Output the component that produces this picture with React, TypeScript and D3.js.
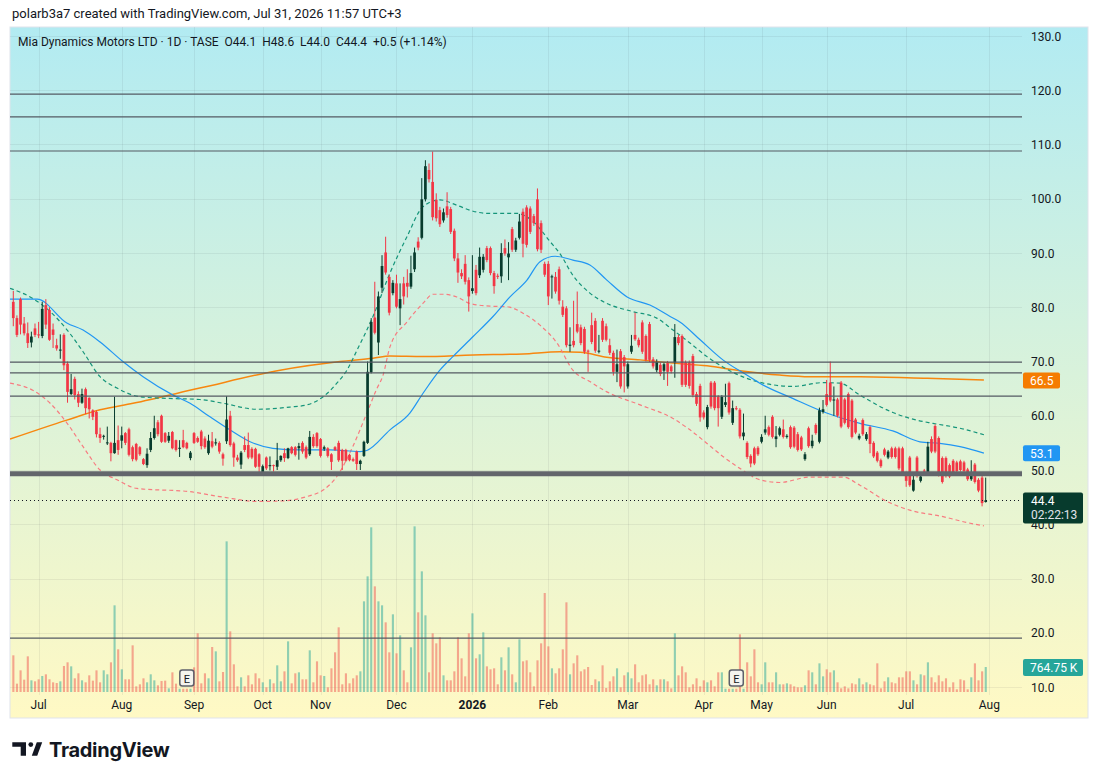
import * as d3 from 'd3';

// daily candles: [open, high, low, close]
const candles: [number, number, number, number][] = [
  [81.0, 83.0, 76.5, 78.0], [78.0, 78.5, 74.5, 74.9], [81.5, 81.8, 75.0, 76.8], [77.0, 78.2, 74.8, 75.2],
  [75.2, 77.2, 72.5, 73.4], [73.5, 75.5, 72.6, 74.6], [76.1, 77.0, 74.5, 74.9], [75.0, 77.3, 74.3, 74.8],
  [74.7, 81.0, 74.3, 79.7], [80.4, 81.5, 76.0, 76.8], [79.5, 80.0, 73.8, 74.0], [75.9, 77.0, 72.5, 74.9],
  [73.0, 74.2, 72.0, 72.4], [72.0, 75.0, 70.5, 72.2], [74.9, 75.2, 68.4, 69.3], [69.6, 70.0, 62.4, 64.4],
  [64.0, 67.7, 63.8, 64.9], [66.8, 67.2, 63.0, 63.8], [64.0, 64.5, 61.6, 62.4], [62.4, 65.0, 62.2, 64.0],
  [64.9, 65.2, 60.3, 61.4], [63.3, 63.4, 59.5, 61.2], [61.0, 61.2, 59.2, 59.8], [60.7, 61.0, 56.0, 56.6],
  [56.6, 57.8, 55.0, 55.9], [56.2, 56.5, 55.6, 56.3], [54.9, 58.0, 54.6, 55.1], [55.0, 55.2, 51.6, 53.1],
  [53.1, 63.5, 53.0, 55.0], [55.5, 58.2, 52.8, 53.7], [55.4, 58.0, 54.0, 56.4], [56.8, 57.0, 54.6, 55.0],
  [57.5, 57.8, 52.5, 52.8], [54.2, 54.5, 51.6, 52.0], [54.8, 55.0, 51.6, 51.9], [54.2, 54.4, 52.6, 52.9],
  [52.0, 52.2, 50.9, 51.1], [50.9, 54.0, 50.4, 53.0], [53.7, 57.0, 53.3, 55.9], [55.9, 60.0, 55.6, 57.7],
  [58.8, 59.2, 56.2, 56.6], [60.0, 60.2, 55.0, 55.2], [56.8, 57.0, 55.0, 55.2], [55.4, 57.0, 55.0, 56.3],
  [57.0, 57.2, 53.8, 54.0], [55.5, 55.6, 53.4, 53.7], [53.9, 55.5, 52.4, 54.1], [55.5, 57.4, 54.0, 54.2],
  [55.0, 55.2, 53.8, 54.0], [52.2, 53.5, 51.8, 53.2], [56.8, 57.0, 54.8, 55.0], [55.9, 56.2, 55.0, 55.2],
  [57.1, 57.4, 53.8, 54.4], [55.8, 56.2, 53.9, 54.2], [53.1, 56.5, 52.8, 55.4], [55.3, 57.0, 54.0, 54.3],
  [54.9, 55.8, 54.5, 55.1], [55.0, 55.3, 53.0, 53.4], [52.9, 53.2, 50.8, 52.1], [55.3, 63.6, 54.8, 59.3],
  [60.0, 60.9, 54.3, 54.6], [54.9, 55.2, 50.6, 52.3], [52.3, 52.8, 51.5, 51.8], [51.0, 53.5, 50.2, 53.2],
  [54.6, 56.2, 53.3, 53.7], [54.6, 56.9, 52.0, 52.3], [53.9, 54.2, 52.0, 52.3], [53.9, 54.1, 50.4, 50.6],
  [52.9, 53.1, 49.1, 50.6], [49.1, 51.0, 48.9, 50.7], [52.3, 52.5, 50.0, 50.3], [50.7, 52.5, 49.9, 50.9],
  [50.9, 51.0, 49.7, 50.8], [50.6, 55.0, 50.0, 51.8], [51.8, 52.7, 51.5, 52.6], [53.1, 54.0, 51.5, 52.2],
  [52.2, 54.1, 52.0, 54.0], [54.2, 54.4, 52.9, 53.1], [54.2, 54.4, 52.5, 52.8], [54.0, 55.0, 51.9, 54.4],
  [55.0, 55.3, 53.0, 53.4], [54.2, 54.5, 52.0, 52.3], [52.9, 57.2, 52.6, 56.1], [56.1, 56.6, 54.1, 54.4],
  [56.8, 57.0, 54.1, 54.4], [55.7, 55.9, 52.3, 52.6], [53.9, 54.5, 53.5, 54.2], [54.0, 54.2, 52.3, 52.6],
  [52.9, 53.1, 50.0, 51.5], [54.2, 54.4, 53.5, 53.7], [55.0, 55.4, 51.5, 51.8], [53.7, 53.9, 50.0, 51.7],
  [53.7, 53.9, 51.5, 51.7], [52.8, 53.0, 51.6, 51.8], [52.0, 52.3, 51.5, 51.7], [53.4, 53.6, 50.0, 51.1],
  [51.1, 51.9, 50.0, 51.7], [52.6, 55.4, 52.4, 55.2], [55.0, 70.0, 54.8, 68.1], [68.0, 78.0, 67.8, 77.3],
  [78.1, 84.7, 75.0, 75.3], [73.5, 82.9, 71.2, 82.0], [83.6, 89.6, 82.6, 87.6], [90.1, 93.0, 86.0, 86.4],
  [85.6, 86.0, 78.5, 79.0], [82.6, 85.0, 82.2, 84.5], [84.4, 86.0, 79.8, 80.1], [79.8, 84.4, 76.7, 81.5],
  [84.4, 85.6, 80.5, 82.0], [84.5, 87.0, 81.8, 83.8], [83.8, 89.5, 83.4, 86.3], [87.0, 91.0, 86.5, 90.1],
  [92.1, 92.9, 90.5, 91.0], [92.8, 103.8, 92.5, 99.9], [99.9, 107.1, 99.5, 106.0], [105.3, 106.5, 103.0, 103.6],
  [103.1, 108.7, 96.0, 96.6], [99.8, 101.0, 95.8, 96.4], [97.9, 98.5, 94.8, 95.3], [96.0, 98.2, 95.6, 97.5],
  [98.6, 101.2, 96.5, 97.0], [98.1, 98.5, 93.5, 93.9], [94.1, 94.5, 88.5, 89.0], [89.0, 90.0, 84.5, 86.4],
  [86.3, 87.0, 85.2, 85.7], [88.0, 89.6, 84.2, 84.7], [85.0, 85.5, 79.2, 82.0], [83.0, 89.6, 82.5, 83.5],
  [86.9, 87.8, 82.2, 82.6], [85.9, 91.0, 85.4, 89.3], [86.9, 89.8, 86.4, 89.3], [90.9, 91.3, 88.3, 88.7],
  [90.9, 91.2, 85.9, 86.3], [86.3, 86.7, 82.5, 83.9], [85.8, 86.2, 85.2, 85.6], [85.7, 91.8, 84.5, 90.0],
  [90.9, 92.5, 89.5, 89.9], [89.2, 92.0, 85.0, 89.9], [94.4, 94.8, 90.2, 90.6], [90.6, 92.8, 90.2, 92.3],
  [92.8, 97.2, 92.5, 95.8], [97.6, 98.2, 89.2, 91.7], [98.4, 98.8, 91.0, 91.5], [98.2, 98.6, 93.5, 93.9],
  [96.8, 97.2, 95.0, 95.5], [99.9, 101.9, 90.3, 90.7], [95.5, 96.0, 90.0, 90.6], [88.0, 88.4, 85.6, 86.0],
  [88.0, 88.5, 80.4, 82.0], [85.5, 86.0, 81.6, 85.7], [85.6, 86.5, 82.5, 82.9], [87.0, 87.5, 80.5, 81.2],
  [80.1, 81.3, 78.2, 78.6], [79.8, 80.2, 72.6, 73.0], [72.9, 76.3, 71.8, 73.1], [73.8, 81.2, 72.6, 73.0],
  [76.9, 82.9, 75.2, 75.5], [76.3, 76.8, 73.0, 73.4], [76.0, 76.4, 71.4, 71.8], [72.0, 72.2, 68.1, 71.9],
  [76.7, 79.0, 73.2, 73.6], [77.5, 78.0, 71.6, 72.0], [71.8, 74.9, 71.5, 72.0], [77.5, 78.0, 73.6, 74.0],
  [76.5, 77.0, 73.7, 74.0], [73.0, 74.2, 71.2, 71.6], [71.6, 72.0, 67.4, 68.1], [68.1, 72.2, 66.2, 69.5],
  [71.9, 72.3, 65.0, 65.4], [70.8, 71.2, 64.3, 69.1], [65.4, 70.0, 65.0, 69.5], [71.8, 74.9, 71.4, 72.9],
  [74.9, 79.0, 73.8, 74.1], [74.0, 74.4, 72.6, 73.0], [77.2, 77.6, 71.4, 71.8], [74.7, 75.0, 70.0, 70.3],
  [76.9, 77.3, 69.9, 70.3], [70.4, 70.8, 68.7, 69.1], [68.4, 70.4, 68.0, 69.9], [69.4, 69.8, 67.3, 67.7],
  [68.3, 69.8, 66.6, 69.5], [69.7, 70.1, 65.5, 68.1], [69.1, 69.4, 67.8, 68.2], [69.8, 76.9, 67.0, 74.5],
  [74.5, 74.9, 73.0, 73.4], [74.7, 75.0, 65.3, 65.7], [69.8, 70.2, 65.3, 65.7], [69.8, 70.2, 65.0, 65.5],
  [71.0, 71.4, 63.4, 63.8], [64.0, 64.4, 61.8, 62.2], [65.5, 65.9, 58.9, 59.7], [60.6, 61.0, 59.3, 59.7],
  [57.9, 62.0, 57.5, 61.6], [66.1, 66.4, 61.3, 61.7], [66.1, 66.4, 61.0, 61.4], [63.5, 63.8, 58.0, 61.4],
  [59.8, 63.8, 59.4, 63.5], [62.0, 65.9, 61.6, 62.5], [66.0, 66.3, 60.2, 60.6], [58.7, 62.8, 58.3, 61.4],
  [61.4, 61.8, 61.0, 61.2], [61.1, 61.4, 55.8, 56.2], [56.2, 60.4, 55.5, 56.9], [55.0, 55.3, 52.0, 52.4],
  [52.6, 52.9, 50.5, 51.2], [54.0, 54.3, 50.9, 51.2], [54.1, 54.4, 52.6, 52.9], [55.2, 56.6, 54.9, 56.1],
  [56.9, 60.0, 56.5, 57.5], [57.9, 58.2, 56.2, 56.5], [59.8, 60.1, 55.8, 56.1], [55.7, 58.1, 54.2, 56.2],
  [56.5, 58.0, 56.2, 57.7], [57.5, 59.3, 55.8, 56.1], [56.1, 56.6, 55.8, 56.3], [57.9, 58.2, 53.9, 54.2],
  [57.8, 58.1, 54.0, 54.3], [56.6, 57.0, 53.4, 53.7], [56.0, 56.3, 53.5, 53.8], [52.0, 53.3, 51.7, 52.9],
  [57.7, 58.0, 54.1, 54.4], [54.4, 56.5, 54.0, 55.4], [58.3, 58.6, 56.5, 56.8], [55.2, 61.5, 54.9, 61.0],
  [60.7, 62.9, 60.4, 61.2], [64.0, 66.6, 61.7, 62.0], [66.1, 70.0, 62.5, 62.8], [62.8, 65.4, 60.0, 63.0],
  [63.0, 63.3, 59.7, 60.0], [66.1, 66.4, 57.7, 58.0], [63.0, 63.3, 58.4, 58.7], [64.0, 64.3, 57.6, 57.9],
  [62.8, 63.1, 55.8, 56.1], [59.3, 59.6, 56.6, 56.9], [55.8, 56.7, 55.5, 56.3], [59.2, 59.5, 56.3, 56.6],
  [55.7, 57.0, 55.4, 56.6], [57.9, 58.2, 53.1, 54.8], [55.0, 55.3, 52.2, 52.5], [53.2, 53.5, 51.4, 51.7],
  [51.8, 52.1, 50.4, 50.7], [53.8, 54.1, 52.5, 52.8], [52.3, 53.7, 52.0, 53.4], [54.0, 54.3, 52.1, 52.4],
  [54.0, 54.3, 52.1, 52.4], [54.0, 54.3, 50.0, 50.3], [54.0, 54.3, 49.2, 49.5], [49.4, 49.7, 46.9, 48.0],
  [52.3, 52.6, 46.9, 47.2], [46.2, 49.0, 46.0, 48.2], [52.3, 52.6, 48.6, 48.9], [48.0, 49.4, 47.7, 48.8],
  [49.9, 50.2, 49.4, 49.7], [49.4, 55.2, 49.1, 54.3], [55.7, 56.2, 53.1, 53.4], [58.1, 58.4, 53.1, 53.4],
  [55.9, 56.2, 48.8, 49.1], [52.2, 52.5, 47.5, 47.8], [52.2, 52.5, 48.6, 49.4], [50.9, 51.2, 48.5, 48.8],
  [51.7, 52.0, 49.2, 49.5], [51.4, 51.7, 49.5, 49.8], [51.6, 51.9, 49.7, 50.0], [51.4, 51.7, 49.5, 49.8],
  [50.1, 50.4, 48.0, 48.3], [48.3, 51.8, 48.0, 49.2], [51.0, 51.3, 47.5, 47.8], [48.2, 48.5, 45.9, 46.2],
  [48.6, 48.9, 43.3, 43.9], [44.1, 48.6, 44.0, 44.4],
];

// volume in thousands
const volumes = [
  1122, 255, 663, 377, 1091, 357, 326, 388, 490, 541, 388, 296, 275, 326, 796, 908, 785, 418, 571, 357,
  296, 510, 347, 663, 296, 663, 541, 908, 2652, 1306, 694, 388, 388, 1428, 173, 235, 418, 296, 541, 357,
  204, 337, 347, 112, 602, 255, 100, 100, 100, 100, 755, 1795, 265, 571, 418, 1377, 1244, 326, 612, 4610,
  1856, 847, 173, 449, 173, 510, 235, 571, 418, 296, 143, 388, 265, 816, 326, 632, 1550, 265, 571, 602,
  388, 388, 1275, 296, 938, 510, 490, 143, 724, 1214, 1979, 235, 571, 265, 418, 510, 632, 2774, 3539, 5039,
  3233, 2774, 2652, 2132, 1214, 2377, 1183, 1734, 663, 296, 1367, 5069, 2438, 3692, 2346, 602, 1795, 1489, 1673, 510,
  357, 357, 632, 1673, 1030, 479, 1795, 2407, 1030, 1153, 1826, 785, 694, 724, 235, 1061, 663, 1367, 541, 296,
  1612, 938, 969, 602, 173, 969, 1489, 3029, 1397, 724, 571, 724, 1306, 2744, 541, 877, 1122, 632, 694, 765,
  214, 388, 326, 816, 122, 326, 479, 724, 143, 510, 602, 418, 847, 296, 510, 541, 235, 388, 204, 388,
  388, 326, 112, 1795, 510, 785, 602, 143, 235, 418, 173, 357, 296, 357, 173, 602, 602, 100, 100, 100,
  100, 1765, 100, 908, 479, 1306, 296, 235, 908, 296, 296, 602, 235, 235, 265, 235, 173, 143, 143, 204,
  663, 602, 235, 877, 479, 694, 600, 663, 296, 112, 173, 112, 265, 235, 418, 235, 296, 235, 204, 877,
  112, 326, 449, 296, 265, 449, 449, 632, 632, 357, 235, 541, 510, 908, 449, 296, 510, 326, 418, 143,
  296, 82, 388, 357, 82, 449, 877, 357, 632, 765,
];

const months = [
  { label: 'Jul', i: 7 }, { label: 'Aug', i: 30 }, { label: 'Sep', i: 50 }, { label: 'Oct', i: 69 },
  { label: 'Nov', i: 85 }, { label: 'Dec', i: 106 }, { label: '2026', i: 127 }, { label: 'Feb', i: 148 },
  { label: 'Mar', i: 170 }, { label: 'Apr', i: 191 }, { label: 'May', i: 207 }, { label: 'Jun', i: 225 },
  { label: 'Jul', i: 247 }, { label: 'Aug', i: 270 },
];

const priceTicks = [130, 120, 110, 100, 90, 80, 70, 60, 50, 40, 30, 20, 10];
const levelLines = [119.3, 115.1, 108.8, 69.9, 67.9, 63.6, 19.0];
const supportLine = 49.3;
const earnings = [48, 200];

// [bar index, value]
const smaBlue: [number, number][] = [
  [-0.9, 81.5], [6.6, 81.5], [14.8, 77.1], [19.3, 75.8], [24, 73.6], [30.3, 70.0], [35.9, 67.2], [44.2, 63.8],
  [48.9, 62.3], [54.4, 59.8], [59.9, 57.4], [65.5, 55.2], [71.8, 54.0], [79.3, 53.7], [87.6, 53.7], [95.9, 53.4],
  [97.8, 53.6], [104.2, 57.4], [109.7, 60.5], [113.3, 64.1], [118, 68.4], [121.6, 70.9], [127.2, 74.6],
  [132.7, 78.3], [137.4, 81.9], [142.1, 85.0], [145.7, 88.4], [149.9, 89.4], [154.8, 88.7], [159.5, 87.8],
  [164.2, 85.0], [169.8, 81.9], [176.1, 80.4], [181.7, 78.3], [184.4, 77.3], [190, 74.0], [196.3, 70.3],
  [202.9, 67.5], [206.5, 66.0], [215.6, 63.2], [225, 60.5], [234.2, 58.6], [243.3, 57.2], [250.8, 55.2],
  [256.3, 54.9], [261.9, 54.3], [268.5, 53.1],
];
const smaOrange: [number, number][] = [
  [-0.9, 55.7], [14.8, 59.2], [24, 61.1], [33.1, 62.3], [51.6, 65.1], [73.8, 68.4], [90.4, 70.0], [99.5, 70.6],
  [104.2, 71.0], [113.3, 70.9], [127.2, 71.2], [141, 71.4], [151.2, 71.8], [156.8, 71.7], [164.2, 70.8],
  [173.4, 70.3], [182.5, 69.7], [191.9, 69.2], [201, 68.3], [212, 67.5], [220.4, 67.2], [234.2, 67.2],
  [252.8, 66.9], [268.5, 66.6],
];
const bandUpper: [number, number][] = [
  [-0.9, 83.5], [5.4, 81.6], [10.2, 79.2], [14.9, 75.8], [19.3, 71.8], [24, 67.2], [28.7, 65.1], [35.1, 63.5],
  [42.5, 63.2], [51.6, 63.0], [58, 62.3], [67.4, 61.2], [76.5, 61.6], [81.2, 62.0], [86.8, 64.1], [89.5, 66.0],
  [92.3, 68.4], [95.1, 72.1], [99.5, 78.3], [104.2, 86.3], [108.9, 93.0], [113.3, 98.5], [118, 99.8],
  [122.7, 98.8], [127.2, 97.7], [131.9, 97.3], [139.3, 97.3], [143.8, 95.8], [148.5, 92.1], [151.2, 89.9],
  [154.8, 85.9], [159.5, 82.6], [164.2, 80.7], [171.4, 79.2], [178, 78.0], [182.5, 75.8], [187.2, 73.4],
  [191.9, 70.9], [196.3, 69.0], [202.9, 66.9], [210.1, 65.7], [215.6, 65.4], [223.9, 66.1], [228.7, 66.0],
  [234.2, 63.8], [243.3, 60.6], [249.9, 59.2], [254.4, 58.6], [261.9, 57.7], [268.5, 56.5],
];
const bandLower: [number, number][] = [
  [-0.9, 66.0], [5.4, 64.7], [10.2, 62.3], [14.9, 58.6], [19.3, 54.3], [24, 50.0], [28.7, 48.2], [34.2, 46.6],
  [48.9, 46.0], [58, 45.0], [67.4, 44.2], [74.6, 44.3], [81.2, 45.1], [85.7, 46.3], [89.5, 48.8], [93.9, 54.3],
  [97.8, 60.5], [100.5, 64.9], [102.3, 67.5], [104.2, 72.7], [108.9, 77.3], [113.3, 80.7], [116.1, 82.4],
  [118.9, 82.4], [122.7, 81.9], [126.3, 80.7], [131.9, 80.2], [136.6, 80.1], [141, 78.9], [145.7, 76.7],
  [150.4, 73.4], [154.8, 68.4], [159.5, 66.3], [164.2, 64.4], [173.4, 62.0], [182.5, 59.5], [187.2, 57.4],
  [191.9, 54.9], [196.3, 52.5], [201, 50.3], [206.5, 48.2], [212, 47.7], [220.4, 48.7], [229.5, 48.7],
  [234.2, 47.2], [241.7, 44.2], [248, 42.6], [257.2, 41.4], [263.9, 40.3], [268.5, 39.7],
];

const UP = '#073b2d';
const DOWN = '#f23645';
const FONT = 'Roboto, "Noto Sans", sans-serif';

export default function App() {
  const left = 10;
  const plotRight = 1022;
  const panelRight = 1088;
  const top = 27;
  const bottom = 718;

  const n = candles.length;
  const x = d3.scaleLinear().domain([0, n - 1]).range([13.3, 985.7]);
  const y = d3.scaleLinear().domain([10, 130]).range([687, 36]);
  const vy = d3.scaleLinear().domain([0, 5080]).range([692, 526]);

  const line = d3
    .line<[number, number]>()
    .x(d => x(d[0]))
    .y(d => y(d[1]))
    .curve(d3.curveMonotoneX);

  const last = candles[n - 1];
  const bodyW = 2.7;

  return (
    <svg
      width={1098}
      height={780}
      style={{ position: 'absolute', left: 0, top: 0, background: '#fff' }}
      fontFamily={FONT}
    >
      <defs>
        <linearGradient id="bg" x1="0" y1="0" x2="0" y2="1">
          <stop offset="0" stopColor="#b2ebf2" />
          <stop offset="1" stopColor="#fff9c4" />
        </linearGradient>
        <clipPath id="plot">
          <rect x={left} y={top} width={plotRight - left} height={bottom - top} />
        </clipPath>
      </defs>

      {/* header */}
      <text x={12} y={18} fontSize={13} fill="#131722">
        polarb3a7 created with TradingView.com, Jul 31, 2026 11:57 UTC+3
      </text>

      <rect x={left} y={top} width={panelRight - left} height={bottom - top} fill="url(#bg)" stroke="#e0e3eb" />

      {/* grid */}
      <g stroke="#2a2e39" strokeOpacity={0.07}>
        {priceTicks.map(p => (
          <line key={p} x1={left} x2={plotRight} y1={Math.round(y(p)) + 0.5} y2={Math.round(y(p)) + 0.5} />
        ))}
        {months.map(m => (
          <line key={m.label + m.i} x1={Math.round(x(m.i)) + 0.5} x2={Math.round(x(m.i)) + 0.5} y1={top} y2={695} />
        ))}
      </g>

      <g clipPath="url(#plot)">
        {/* volume */}
        {volumes.map((v, i) => {
          const c = candles[i];
          const up = c[3] >= c[0];
          return (
            <rect
              key={i}
              x={x(i) - 1}
              y={vy(v)}
              width={2.1}
              height={vy(0) - vy(v)}
              fill={up ? 'rgba(38,166,154,0.5)' : 'rgba(239,83,80,0.5)'}
            />
          );
        })}

        {/* indicator lines */}
        <path d={line(smaOrange) ?? ''} fill="none" stroke="#f7870f" strokeWidth={1.5} />
        <path d={line(bandUpper) ?? ''} fill="none" stroke="#15957a" strokeWidth={1.2} strokeDasharray="4 3" />
        <path d={line(bandLower) ?? ''} fill="none" stroke="#f77c80" strokeWidth={1.2} strokeDasharray="4 3" />
        <path d={line(smaBlue) ?? ''} fill="none" stroke="#2196f3" strokeWidth={1.2} />

        {/* candles */}
        {candles.map(([o, h, l, c], i) => {
          const up = c >= o;
          const col = up ? UP : DOWN;
          const cx = x(i);
          const yt = y(Math.max(o, c));
          const yb = y(Math.min(o, c));
          return (
            <g key={i}>
              <line x1={cx} x2={cx} y1={y(h)} y2={y(l)} stroke={col} strokeWidth={1} />
              <rect x={cx - bodyW / 2} y={yt} width={bodyW} height={Math.max(1, yb - yt)} fill={col} />
            </g>
          );
        })}

        {/* drawn horizontal levels */}
        {levelLines.map(p => (
          <line key={p} x1={left} x2={plotRight} y1={y(p)} y2={y(p)} stroke="#555a63" strokeWidth={1.2} />
        ))}
        <line x1={left} x2={plotRight} y1={y(supportLine)} y2={y(supportLine)} stroke="#63666c" strokeWidth={5} />

        {/* last price line */}
        <line
          x1={left}
          x2={plotRight}
          y1={Math.round(y(last[3])) + 0.5}
          y2={Math.round(y(last[3])) + 0.5}
          stroke="#131722"
          strokeWidth={1}
          strokeDasharray="1 3"
        />
      </g>

      {/* earnings markers */}
      {earnings.map(i => (
        <g key={i} transform={`translate(${x(i) - 7},670)`}>
          <rect x={0} y={0} width={14} height={16} rx={2.5} fill="#f4f4ee" stroke="#5d606b" strokeWidth={1.5} />
          <text x={7} y={12.5} fontSize={11} textAnchor="middle" fill="#131722">
            E
          </text>
        </g>
      ))}

      {/* legend */}
      <text x={18} y={46} fontSize={12} fill="#131722" style={{ whiteSpace: 'pre' }}>
        {`Mia Dynamics Motors LTD · 1D · TASE  O44.1  H48.6  L44.0  C44.4  +0.5 (+1.14%)`}
      </text>

      {/* price axis */}
      {priceTicks.map(p => (
        <text key={p} x={1031} y={y(p) + 4.5} fontSize={12} fill="#131722">
          {p.toFixed(1)}
        </text>
      ))}

      {/* axis tags */}
      <rect x={1023} y={y(66.5) - 8} width={37} height={16} rx={2} fill="#f57c00" />
      <text x={1030} y={y(66.5) + 4.5} fontSize={12} fill="#fff">
        66.5
      </text>
      <rect x={1023} y={y(53.1) - 8} width={37} height={16} rx={2} fill="#2196f3" />
      <text x={1030} y={y(53.1) + 4.5} fontSize={12} fill="#fff">
        53.1
      </text>
      <rect x={1023} y={y(last[3]) - 8} width={60} height={31} rx={2} fill={UP} />
      <text x={1031} y={y(last[3]) + 4.5} fontSize={12} fill="#fff">
        44.4
      </text>
      <text x={1031} y={y(last[3]) + 19} fontSize={12} fill="#e0e3eb">
        02:22:13
      </text>
      <rect x={1023} y={vy(volumes[n - 1]) - 8} width={60} height={17} rx={2} fill="#26a69a" />
      <text x={1030} y={vy(volumes[n - 1]) + 4.5} fontSize={12} fill="#fff">
        764.75 K
      </text>

      {/* time axis */}
      {months.map(m => (
        <text
          key={m.label + m.i}
          x={x(m.i)}
          y={709}
          fontSize={12}
          textAnchor="middle"
          fill="#131722"
          fontWeight={m.label === '2026' ? 700 : 400}
        >
          {m.label}
        </text>
      ))}

      {/* footer logo */}
      <g fill="#131722">
        <path d="M12.3 742.3 H26 V755.7 H20.7 V746.8 H12.3 Z" />
        <circle cx={30.8} cy={744.6} r={2.4} />
        <path d="M36.8 742.3 H42.2 L37.2 755.7 H31.8 Z" />
        <text x={49} y={757} fontSize={20} fontWeight={700} fontFamily="Inter, Roboto, sans-serif" letterSpacing={-0.3}>
          TradingView
        </text>
      </g>
    </svg>
  );
}
